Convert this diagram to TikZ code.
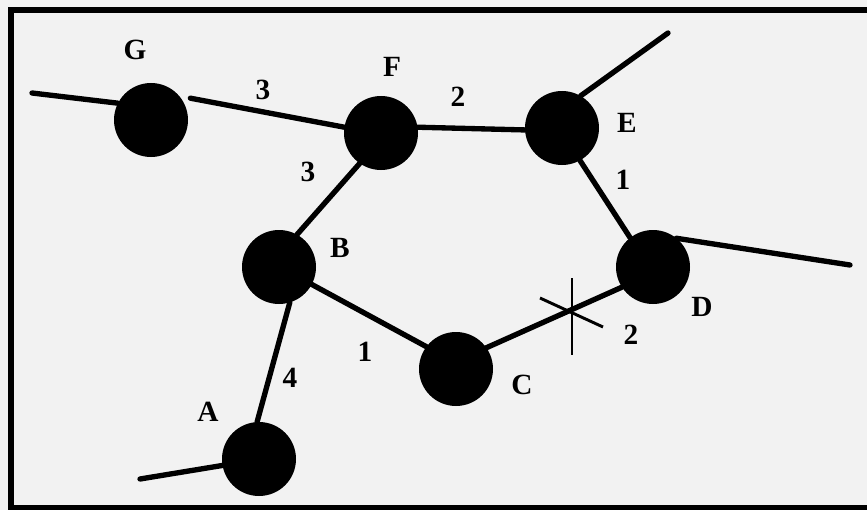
\documentclass[tikz,border=0pt]{standalone}
\usepackage{fontspec}
\setmainfont{Liberation Serif}
\begin{document}
\begin{tikzpicture}[x=0.75pt,y=-0.75pt,
  vertex/.style={circle,fill=black,minimum size=55.5pt,inner sep=0pt,outer sep=0pt},
  edge/.style={line width=4pt,line cap=round},
  lbl/.style={font=\bfseries\fontsize{22}{22}\selectfont,inner sep=0pt},
  xmark/.style={line width=2.2pt}]
\fill[black!5] (0,0) rectangle (867,510);
\useasboundingbox (0,0) rectangle (867,510);
\draw[line width=3.8pt] (871,10) -- (11,10) -- (11,508) -- (871,508);
% vertices
\node[vertex] (G) at (151,120) {};
\node[vertex] (F) at (381,133) {};
\node[vertex] (E) at (562,128) {};
\node[vertex] (D) at (653,267) {};
\node[vertex] (C) at (456,369) {};
\node[vertex] (B) at (279,267) {};
\node[vertex] (A) at (259,459) {};
% free ends
\coordinate (g0) at (32,93);
\coordinate (e0) at (668,33);
\coordinate (d0) at (850,265);
\coordinate (a0) at (140,479);
\coordinate (X) at (572,310);
% edges
\draw[edge] (g0) -- (G.153);
\draw[edge] ([shift={(29:6pt)}]G.29) -- (F.171);
\draw[edge] (F.9) -- (E.183);
\draw[edge] (E.60) -- (e0);
\draw[edge] (E.-61) -- (D.128);
\draw[edge] (D.51) -- (d0);
\draw[edge] (D.213) -- (C.35);
\draw[edge] (C.143) -- (B.-28);
\draw[edge] (B.-73) -- (A.93);
\draw[edge] (F.235) -- (B.61);
\draw[edge] (A.190) -- (a0);
% cross mark
\draw[xmark] ([yshift=32*0.75pt]X) -- ([yshift=-45*0.75pt]X);
\draw[xmark] ([xshift=-32*0.75pt,yshift=12*0.75pt]X) -- ([xshift=31*0.75pt,yshift=-17*0.75pt]X);
% vertex labels
\node[lbl] (lG) at (135,50) {G};
\node[lbl] (lF) at (392,67) {F};
\node[lbl] (lE) at (627,123) {E};
\node[lbl] (lD) at (702,307) {D};
\node[lbl] (lC) at (522,385) {C};
\node[lbl] (lB) at (340,248) {B};
\node[lbl] (lA) at (208,412) {A};
% weights
\node[lbl] (wGF) at (263,90) {3};
\node[lbl] (wFE) at (458,97) {2};
\node[lbl] (wED) at (623,180) {1};
\node[lbl] (wDC) at (631,335) {2};
\node[lbl] (wCB) at (365,352) {1};
\node[lbl] (wBA) at (290,378) {4};
\node[lbl] (wFB) at (308,172) {3};
\end{tikzpicture}
\end{document}
